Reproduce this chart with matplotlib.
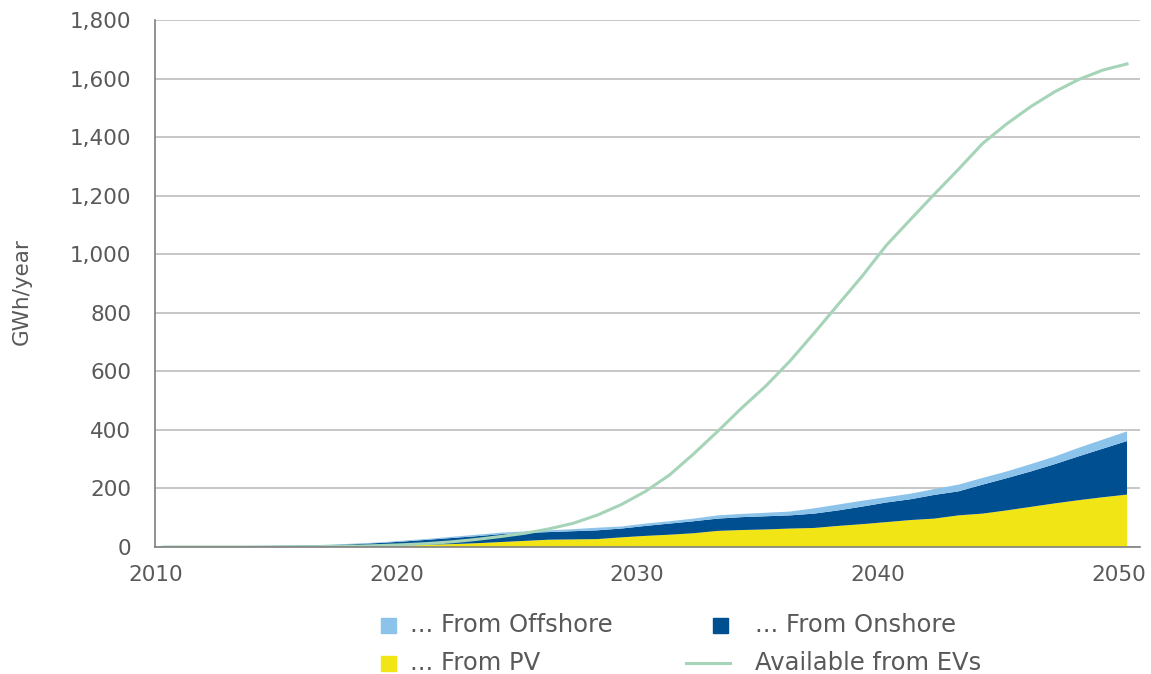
import matplotlib
matplotlib.use("Agg")
import matplotlib.pyplot as plt
from matplotlib.patches import Rectangle
from matplotlib.lines import Line2D

years = list(range(2010, 2051))

# GWh/year, stacked: PV at the bottom, onshore, offshore on top
pv = [0, 0, 0, 0, 0, 1, 1, 1, 2, 4, 6, 8, 10, 13, 17, 21, 25, 26, 27, 33, 38,
      42, 47, 55, 58, 60, 63, 65, 72, 78, 85, 92, 97, 108, 114, 125, 137, 149,
      160, 170, 179]
onshore = [0, 1, 1, 2, 3, 3, 4, 6, 8, 10, 13, 17, 21, 24, 27, 27, 26, 28, 30,
           30, 34, 38, 41, 42, 44, 45, 45, 49, 53, 60, 67, 71, 81, 82, 99, 110,
           121, 134, 150, 166, 183]
offshore = [0, 0, 0.5, 1, 1, 1, 1, 1, 2, 2, 3, 3, 4, 5, 5, 5, 6, 7, 9, 7, 8,
            8, 9, 11, 11, 12, 13, 18, 20, 20, 18, 19, 20, 23, 23, 23, 25, 26,
            29, 31, 33]
ev = [0, 0, 0, 0, 0, 1, 1, 2, 3, 5, 8, 12, 18, 26, 36, 47, 62, 81, 109, 145,
      190, 246, 318, 395, 475, 550, 635, 730, 828, 925, 1030, 1118, 1205, 1290,
      1378, 1445, 1504, 1555, 1597, 1629, 1650]

y_ticks = list(range(0, 1801, 200))
x_ticks = [2010, 2020, 2030, 2040, 2050]

c_pv = "#F2E516"
c_on = "#004F91"
c_off = "#8CC3EA"
c_ev = "#A6D4B8"
c_text = "#595959"

plt.rcParams["font.family"] = ["DejaVu Sans"]

fig = plt.figure(figsize=(11.51, 6.74), dpi=100)
ax = fig.add_axes([155 / 1151, 1 - 547 / 674, (1140 - 155) / 1151, (547 - 20) / 674])

ax.stackplot(years, pv, onshore, offshore, colors=[c_pv, c_on, c_off], linewidth=0)
ax.plot(years, ev, color=c_ev, linewidth=2.2)

ax.set_xlim(2009.63, 2050.54)
ax.set_ylim(0, 1800)
ax.set_yticks(y_ticks)
ax.set_yticklabels([f"{v:,}" for v in y_ticks])
# labels sit a little left of the year points in the original
ax.set_xticks([x - 0.35 for x in x_ticks])
ax.set_xticklabels([str(x) for x in x_ticks])
ax.grid(axis="y", color="#BEBEBE", linewidth=1.2)
ax.set_axisbelow(True)
ax.tick_params(axis="both", length=0, labelsize=15.5, colors=c_text)
ax.tick_params(axis="y", pad=17)
ax.tick_params(axis="x", pad=13)
for s in ["top", "right"]:
    ax.spines[s].set_visible(False)
for s in ["left", "bottom"]:
    ax.spines[s].set_color("#7F7F7F")
    ax.spines[s].set_linewidth(1.2)

fig.text(22 / 1151, 1 - 292 / 674, "GWh/year", rotation=90, ha="center", va="center",
         fontsize=15.5, color=c_text)

# legend laid out like the original (two rows, two columns)
def px(x, y):
    return x / 1151, 1 - y / 674

items = [
    ("sq", c_off, 388, 625, 410, "... From Offshore"),
    ("sq", c_on, 720, 625, 755, "... From Onshore"),
    ("sq", c_pv, 388, 663, 410, "... From PV"),
    ("ln", c_ev, 708, 663, 755, "Available from EVs"),
]
for kind, col, hx, hy, tx, label in items:
    if kind == "sq":
        x0, y0 = px(hx - 7.5, hy + 7.5)
        fig.add_artist(Rectangle((x0, y0), 15 / 1151, 15 / 674, color=col,
                                 transform=fig.transFigure))
    else:
        xa, ya = px(686, hy)
        xb, _ = px(730, hy)
        fig.add_artist(Line2D([xa, xb], [ya, ya], color=col, linewidth=2.2,
                              transform=fig.transFigure))
    x, y = px(tx, hy)
    fig.text(x, y, label, ha="left", va="center", fontsize=17.5, color=c_text)

fig.savefig("out.png", dpi=100)
